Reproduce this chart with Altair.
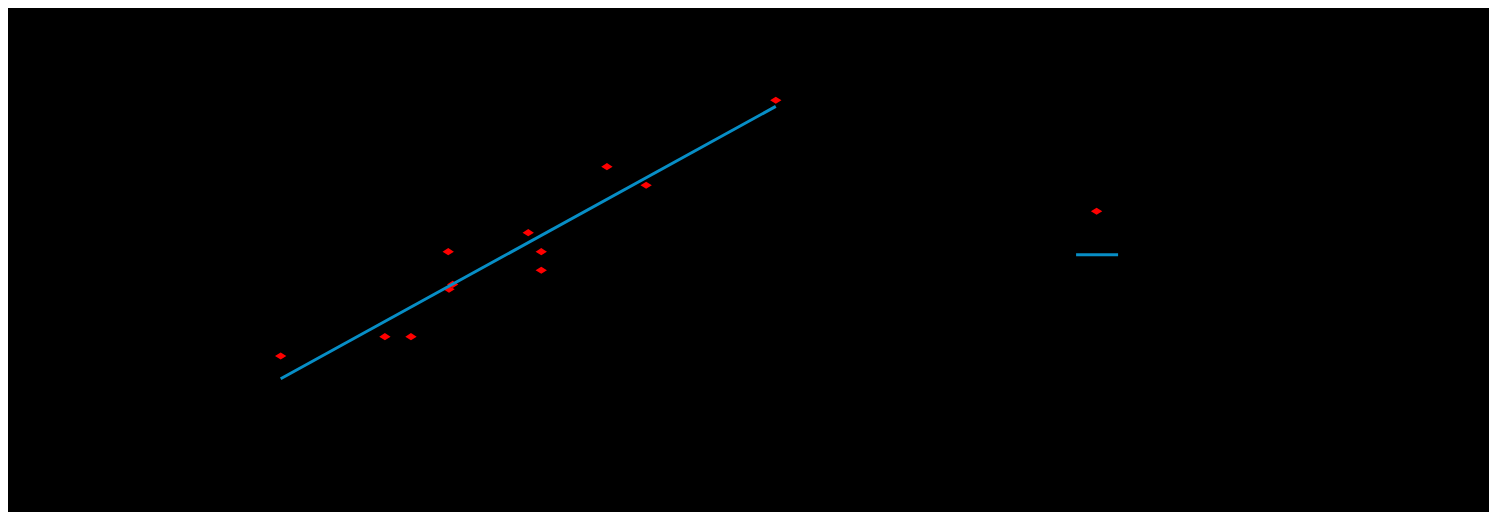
import altair as alt
import pandas as pd

# Data
x_vals = [2.0, 10.0, 12.0, 14.86, 15.2, 14.92, 21.0, 22.0, 22.0, 27.04, 30.05, 40.0]
y_vals = [2.0, 3.04, 3.04, 7.61, 5.85, 5.59, 8.63, 7.61, 6.61, 12.18, 11.18, 15.75]
point_series = ["Data"]
line_series = ["Linear fit"]
point_color = ["#ff0000"]
line_color = ["#078ec6"]
point_shape = ["M-0.27,0L0,-0.17L0.27,0L0,0.17Z"]

df = pd.DataFrame({"x": x_vals, "y": y_vals})

xs = alt.Scale(domain=[0, 50], nice=False, zero=False)
ys = alt.Scale(domain=[0, 20], nice=False, zero=False)

axis_x = alt.Axis(grid=False, domainColor="black", tickColor="black",
                  labelColor="black", titleColor="black", title="x")
axis_y = alt.Axis(grid=False, domainColor="black", tickColor="black",
                  labelColor="black", titleColor="black", title="y")

legend_pts = alt.Legend(
    title=None, orient="none", legendX=821, legendY=169,
    symbolSize=1764, labelColor="black", padding=0,
    symbolStrokeWidth=0, symbolOpacity=1,
)
legend_line = alt.Legend(
    title=None, orient="none", legendX=820, legendY=211,
    symbolSize=1764, labelColor="black", padding=0,
    symbolStrokeWidth=3, symbolOpacity=1, symbolType="stroke",
)

points = (
    alt.Chart(df)
    .transform_calculate(series="'Data'")
    .mark_point(filled=True, size=1764, opacity=1)
    .encode(
        x=alt.X("x:Q", scale=xs, axis=axis_x),
        y=alt.Y("y:Q", scale=ys, axis=axis_y),
        color=alt.Color("series:N", scale=alt.Scale(domain=point_series, range=point_color), legend=legend_pts),
        shape=alt.Shape("series:N", scale=alt.Scale(domain=point_series, range=point_shape), legend=legend_pts),
    )
)

line = (
    alt.Chart(df)
    .transform_regression("x", "y")
    .transform_calculate(series="'Linear fit'")
    .mark_line(strokeWidth=3)
    .encode(
        x=alt.X("x:Q", scale=xs, axis=axis_x),
        y=alt.Y("y:Q", scale=ys, axis=axis_y),
        stroke=alt.Stroke("series:N", scale=alt.Scale(domain=line_series, range=line_color), legend=legend_line),
    )
)

chart = (
    alt.layer(points, line)
    .properties(
        width=651.5,
        height=372,
        padding={"left": 246.6, "top": 13.2, "right": 583, "bottom": 119},
        autosize=alt.AutoSizeParams(type="none"),
        background="black",
    )
    .configure_view(strokeWidth=0)
)

chart.save("out.html", embed_options={"renderer": "svg", "actions": False})
